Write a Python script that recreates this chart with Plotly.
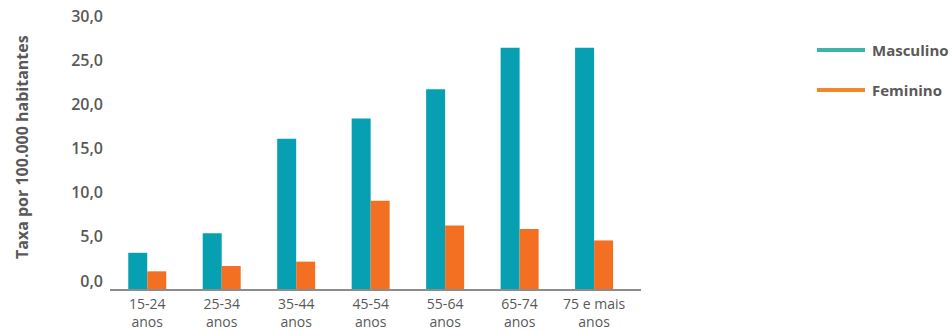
import plotly.graph_objects as go

# Taxa por 100.000 habitantes, por faixa etária e sexo
faixas = ["15-24<br>anos", "25-34<br>anos", "35-44<br>anos", "45-54<br>anos",
          "55-64<br>anos", "65-74<br>anos", "75 e mais<br>anos"]
masculino = [4.1, 6.3, 17.0, 19.3, 22.6, 27.3, 27.3]
feminino = [2.0, 2.6, 3.1, 10.0, 7.2, 6.8, 5.5]
y_ticks = [0, 5, 10, 15, 20, 25, 30]

COR_M = "#07a0b2"
COR_F = "#f36f21"
COR_M_LEG = "#3ab5a7"
COR_F_LEG = "#f5872b"
TEXTO = "#595959"
FONTE = "Open Sans"

W, H = 952, 331
L, R, T, B = 110, 952 - 641, 24, 331 - 289
plot_w = W - L - R
plot_h = H - T - B

fig = go.Figure()
fig.add_trace(go.Bar(x=faixas, y=masculino, name="Masculino",
                     marker=dict(color=COR_M, line=dict(width=0)), showlegend=False))
fig.add_trace(go.Bar(x=faixas, y=feminino, name="Feminino",
                     marker=dict(color=COR_F, line=dict(width=0)), showlegend=False))

# legenda desenhada com linhas e textos
def px_x(px):
    return (px - L) / plot_w

def px_y(py):
    return (H - B - py) / plot_h

legenda = [("Masculino", COR_M_LEG, 50), ("Feminino", COR_F_LEG, 90)]
for nome, cor, py in legenda:
    fig.add_shape(type="line", xref="paper", yref="paper",
                  x0=px_x(817), x1=px_x(865), y0=px_y(py), y1=px_y(py),
                  line=dict(color=cor, width=4))
    fig.add_annotation(xref="paper", yref="paper", x=px_x(870), y=px_y(py),
                       text=nome, showarrow=False, xanchor="left", yanchor="middle",
                       font=dict(family=FONTE, size=15, color=TEXTO, weight="bold"))

fig.add_annotation(xref="paper", yref="paper", x=px_x(22), y=px_y(147),
                   text="Taxa por 100.000 habitantes", textangle=-90, showarrow=False,
                   xanchor="center", yanchor="middle",
                   font=dict(family=FONTE, size=16, color=TEXTO, weight="bold"))

fig.update_layout(
    width=W, height=H,
    margin=dict(l=L, r=R, t=T, b=B, pad=0, autoexpand=False),
    paper_bgcolor="white", plot_bgcolor="white",
    barmode="group", bargap=0.49, bargroupgap=0,
    separators=",.",
    font=dict(family=FONTE, color=TEXTO),
    showlegend=False,
)
fig.update_xaxes(
    range=[-0.5, 6.63], automargin=False,
    showline=True, linecolor="#8c8c8c", linewidth=1.5,
    showgrid=False, ticks="", ticklabelstandoff=1,
    tickfont=dict(family=FONTE, size=14, color=TEXTO),
)
fig.update_yaxes(
    range=[0, 30], automargin=False,
    tickvals=y_ticks, tickformat=".1f",
    showline=False, showgrid=False, zeroline=False, ticks="",
    ticklabelshift=-8, ticklabelstandoff=6,
    tickfont=dict(family=FONTE, size=16, color=TEXTO, weight=600),
)

fig.write_html("out.html")
